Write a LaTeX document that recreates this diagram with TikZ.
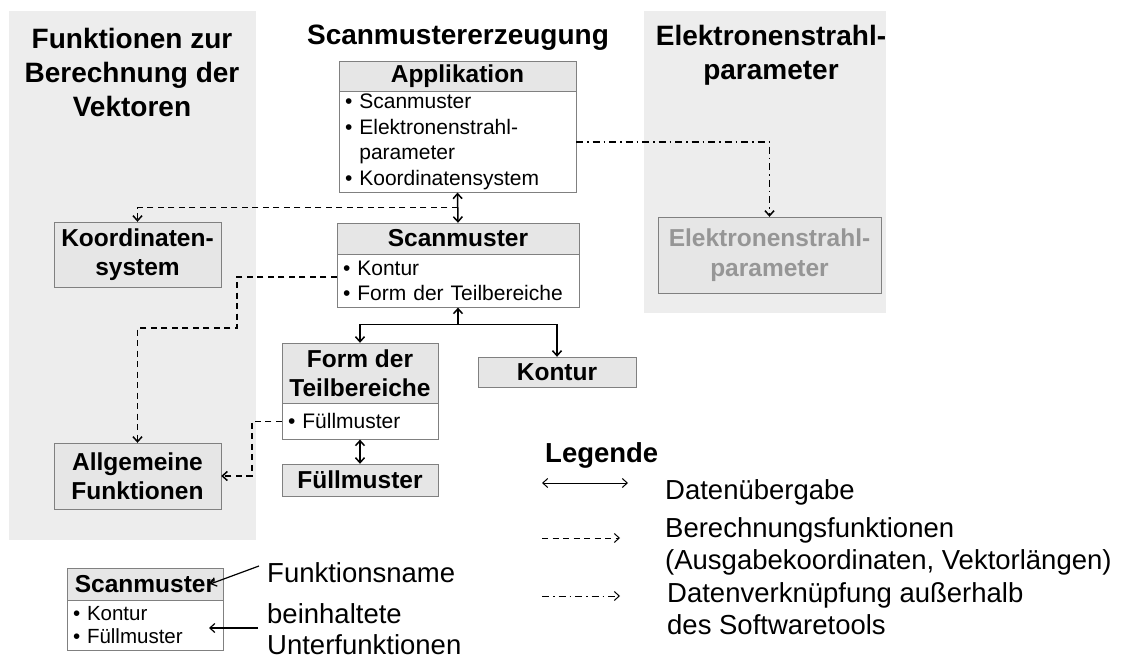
\documentclass[tikz,border=0pt]{standalone}
\usepackage{fontspec}
\setmainfont{Liberation Sans}
\usetikzlibrary{arrows.meta}

\definecolor{panelgray}{RGB}{237,237,237}
\definecolor{headgray}{RGB}{230,230,230}
\definecolor{framegray}{RGB}{128,128,128}
\definecolor{fadedtext}{RGB}{150,150,150}

\newcommand{\fsTitle}{\fontsize{28}{34}\selectfont\bfseries}
\newcommand{\fsHead}{\fontsize{24.5}{29.5}\selectfont\bfseries}
\newcommand{\fsItem}{\fontsize{21}{25.5}\selectfont}
\newcommand{\fsLegend}{\fontsize{27.5}{32}\selectfont}
\newcommand{\itm}{\textbullet\ }

\begin{document}
\begin{tikzpicture}[x=1pt,y=-1pt,>={Straight Barb[length=5pt,width=9pt]},
  panel/.style={fill=panelgray},
  title/.style={font=\fsTitle,align=center},
  head/.style={draw=framegray,fill=headgray,font=\fsHead,align=center,inner sep=0pt},
  list/.style={draw=framegray,fill=white,font=\fsItem,align=left,anchor=north,inner xsep=6pt,inner ysep=0pt},
  lgd/.style={font=\fsLegend,align=left,anchor=west,inner xsep=0pt,inner ysep=1pt},
  link/.style={line width=1.5pt},
  datalink/.style={link,<->},
  calclink/.style={link,->,dash pattern=on 6pt off 4.5pt},
  extlink/.style={link,->,dash pattern=on 7pt off 4pt on 1.5pt off 4pt}]
  \useasboundingbox (0,0) rectangle (1125,660);

  % grey columns behind the function groups
  \fill[panel] (9,11) rectangle (256,540);
  \fill[panel] (644,11) rectangle (886,313);

  \node[title] (t-vec) at (132,72) {Funktionen zur\\Berechnung der\\Vektoren};
  \node[title] (t-scan) at (458,38) {Scanmustererzeugung};
  \node[title] (t-ebp) at (771,55) {Elektronenstrahl-\\parameter};

  % function boxes: header plus list of sub functions
  \node[head,minimum width=237pt,minimum height=30pt] (appl) at (457.5,76) {Applikation};
  \node[list,text width=225pt,minimum height=101pt] (appl-list) at (appl.south)
    {\itm Scanmuster\\ \itm Elektronenstrahl-\\ \phantom{\itm}parameter\\ \itm Koordinatensystem};

  \node[head,minimum width=242pt,minimum height=31pt] (scan) at (458,238.5) {Scanmuster};
  \node[list,text width=230pt,minimum height=53pt] (scan-list) at (scan.south)
    {\itm Kontur\\ \itm Form der Teilbereiche};

  \node[head,minimum width=156pt,minimum height=60pt] (form) at (360,373) {Form der\\Teilbereiche};
  \node[list,text width=144pt,minimum height=36pt] (form-list) at (form.south) {\itm Füllmuster};

  \node[head,minimum width=156pt,minimum height=32pt] (fuell) at (360,480) {Füllmuster};
  \node[head,minimum width=158pt,minimum height=30pt] (kontur) at (557,372) {Kontur};

  \node[head,minimum width=167pt,minimum height=65pt] (koord) at (137.5,254.5) {Koordinaten-\\system};
  \node[head,minimum width=167pt,minimum height=66pt] (allg) at (137.5,476) {Allgemeine\\Funktionen};

  \node[head,minimum width=223pt,minimum height=76pt,text=fadedtext] (ebp) at (769.5,255) {Elektronenstrahl-\\parameter};

  % connections
  \draw[datalink] (appl-list.south) -- (scan.north) coordinate[midway] (split);
  \draw[calclink] (split) -| (koord);
  \draw[calclink] ([yshift=4pt]scan-list.west) -| (237,328) -| (allg);
  \draw[calclink] (form-list.west) -- ++(-30,0) |- (allg);
  \draw[extlink] (appl-list.east) -| (ebp);

  \coordinate (fork) at ([yshift=-17pt]scan-list.south);
  \draw[link,->] (fork) -- (scan-list);
  \draw[link,->] (fork) -| (form);
  \draw[link,->] (fork) -| (kontur);
  \draw[datalink] (form-list.south) -- (fuell.north);

  % legend
  \node[head,minimum width=156pt,minimum height=32pt] (sample) at (145,584) {Scanmuster};
  \node[list,text width=144pt,minimum height=50pt,font=\fontsize{20.5}{23}\selectfont] (sample-list) at (sample.south)
    {\itm Kontur\\ \itm Füllmuster};
  \node[lgd] (lbl-name) at (267,573) {Funktionsname};
  \node[lgd,font=\fontsize{27.5}{31}\selectfont] (lbl-sub) at (267,629) {beinhaltete\\Unterfunktionen};
  \draw[link,line width=1.2pt,->] ([xshift=-8pt,yshift=7pt]lbl-name.west) -- ([xshift=-13pt]sample.east);
  \draw[link,line width=1.2pt,->] ([xshift=-9pt,yshift=1pt]lbl-sub.west) -- ++(-49,0);

  \node[lgd,font=\fsLegend\bfseries] (lgd-head) at (545,455) {Legende};
  \foreach \sty/\yy/\xe in {datalink/483/628, calclink/538/620, extlink/596/620}
    \draw[\sty,line width=1pt] (542,\yy) -- (\xe,\yy);
  \node[lgd] (lbl-data) at (665,492) {Datenübergabe};
  \node[lgd] (lbl-calc) at (665,546) {Berechnungsfunktionen\\(Ausgabekoordinaten, Vektorlängen)};
  \node[lgd] (lbl-ext) at (667,609) {Datenverknüpfung außerhalb\\des Softwaretools};
\end{tikzpicture}
\end{document}
